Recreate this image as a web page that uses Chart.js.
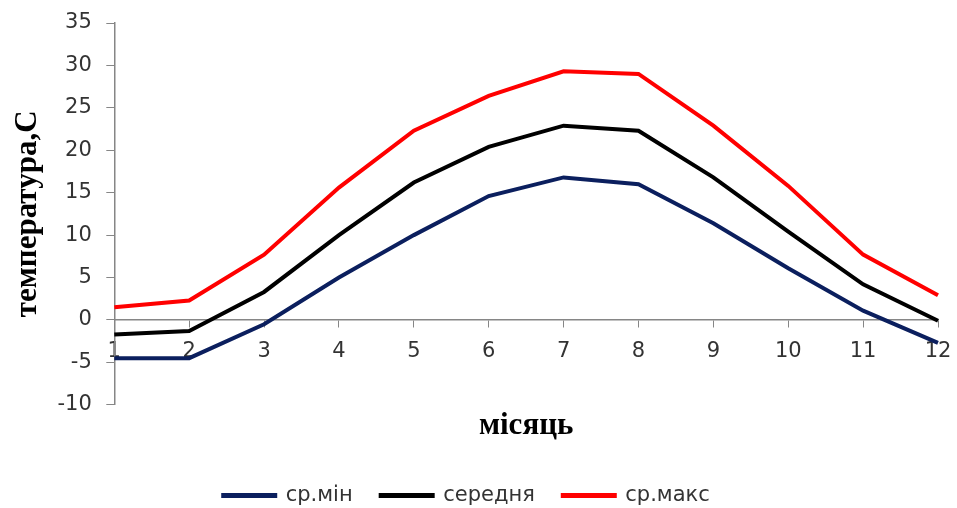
<!DOCTYPE html>
<html>
<head>
<meta charset="utf-8">
<script src="https://cdn.jsdelivr.net/npm/chart.js@4.4.0/dist/chart.umd.min.js"></script>
<style>
  html, body { margin: 0; padding: 0; background: #fff; }
  #wrap { width: 957px; height: 508px; }
</style>
</head>
<body>
<div id="wrap"><canvas id="chart"></canvas></div>
<script>
// місяці
const months = ['1', '2', '3', '4', '5', '6', '7', '8', '9', '10', '11', '12'];

// температури, °C
const tMin  = [-4.5, -4.5, -0.5, 5.0, 10.0, 14.6, 16.8, 16.0, 11.4, 6.1, 1.1, -2.7];
const tMean = [-1.7, -1.3, 3.3, 10.0, 16.2, 20.4, 22.9, 22.3, 16.8, 10.4, 4.2, -0.1];
const tMax  = [1.5, 2.3, 7.7, 15.6, 22.3, 26.4, 29.3, 29.0, 22.9, 15.8, 7.7, 2.9];

const axisGray = '#868686';
const tickFont = { family: 'DejaVu Sans', size: 21 };

function line(label, data, color) {
  return {
    label, data,
    borderColor: color,
    backgroundColor: color,
    borderWidth: 4,
    pointRadius: 0,
    pointHoverRadius: 0,
    tension: 0
  };
}

// легенда в оригіналі трохи зсунута вліво
const legendShift = {
  id: 'legendShift',
  afterLayout(chart) {
    const lg = chart.legend;
    if (!lg) return;
    lg.left -= 18;
    lg.right -= 18;
  }
};

new Chart(document.getElementById('chart'), {
  type: 'line',
  data: {
    labels: months,
    datasets: [
      line('ср.мін', tMin, '#0b1f5e'),
      line('середня', tMean, '#000000'),
      line('ср.макс', tMax, '#ff0000')
    ]
  },
  plugins: [legendShift],
  options: {
    responsive: true,
    maintainAspectRatio: false,
    animation: false,
    layout: { padding: { top: 0, right: 0, left: 12, bottom: -8 } },
    scales: {
      x: {
        position: { y: 0 },
        offset: false,
        grid: { drawOnChartArea: false, drawTicks: true, tickLength: 7, color: axisGray },
        border: { color: axisGray, width: 1.5 },
        ticks: { font: tickFont, color: '#333', padding: 12, maxRotation: 0 },
        afterFit: s => { s.paddingRight = 19; }
      },
      y: {
        min: -10,
        max: 35,
        ticks: { stepSize: 5, font: tickFont, color: '#333', padding: 14.5 },
        grid: { drawOnChartArea: false, drawTicks: true, tickLength: 8, color: axisGray },
        border: { color: axisGray, width: 1.5 },
        title: {
          display: true,
          text: 'температура,С',
          color: '#000',
          font: { family: 'Liberation Serif', size: 31, weight: 'bold', lineHeight: 1 },
          padding: { top: 0, bottom: 0 }
        },
        afterFit: s => { s.paddingTop = 23; }
      }
    },
    plugins: {
      title: {
        display: true,
        text: 'місяць',
        position: 'bottom',
        fullSize: false,
        weight: 100,
        color: '#000',
        font: { family: 'Liberation Serif', size: 31, weight: 'bold' },
        padding: { top: 3, bottom: 12 }
      },
      legend: {
        position: 'bottom',
        labels: {
          boxWidth: 52,
          boxHeight: 1,
          padding: 28,
          color: '#333',
          font: tickFont
        }
      },
      tooltip: { enabled: false }
    }
  }
});
</script>
</body>
</html>
